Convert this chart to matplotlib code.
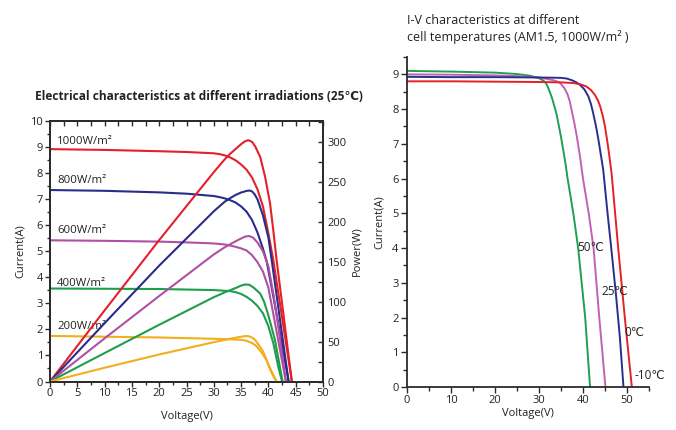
import matplotlib
matplotlib.use("Agg")
import matplotlib.pyplot as plt
from matplotlib.ticker import MultipleLocator

plt.rcParams['font.family'] = ['Open Sans', 'DejaVu Sans']

# ---------------- Left panel data (irradiation) ----------------
irr_labels = ["1000W/m²", "800W/m²", "600W/m²", "400W/m²", "200W/m²"]
irr_colors = ["#e3202b", "#2a2c8c", "#b04fa3", "#1e9e4c", "#f2ae1c"]

iv1000_v = [0, 10, 20, 25, 30, 31, 32, 33, 34, 35, 36, 37, 38, 39, 40, 40.9, 42, 43, 44.3]
iv1000_i = [8.92, 8.89, 8.84, 8.81, 8.76, 8.73, 8.68, 8.6, 8.49, 8.33, 8.13, 7.83, 7.38, 6.72, 5.68, 4.66, 3.15, 1.78, 0]
p1000_v = [0, 10, 20, 30, 32, 33, 34, 35, 35.7, 36.3, 37, 37.6, 38.5, 39.4, 40.3, 40.9, 41.5, 42.5, 43.5, 44.3]
p1000_p = [0, 89, 177, 262, 278, 285, 291, 297, 300.5, 302, 300, 294, 281, 256, 223, 189, 152, 98, 43, 0]

iv800_v = [0, 10, 20, 25, 30, 31, 32, 33, 34, 35, 36, 37, 38, 39, 39.7, 41, 42, 43, 43.7]
iv800_i = [7.35, 7.32, 7.26, 7.21, 7.12, 7.08, 7.03, 6.96, 6.87, 6.72, 6.52, 6.2, 5.72, 5.1, 4.6, 3.15, 2.0, 0.82, 0]
p800_v = [0, 10, 20, 30, 32, 33, 34, 35, 36, 36.5, 37, 37.5, 38, 39, 40, 40.6, 41.5, 42.5, 43.7]
p800_p = [0, 73, 145, 213, 225, 229.5, 233.5, 236.5, 238.5, 239, 238, 234, 228, 208, 180, 152, 108, 59, 0]

iv600_v = [0, 10, 20, 25, 30, 32, 33, 34, 35, 36, 37, 38, 39, 40, 41, 42, 43.2]
iv600_i = [5.42, 5.40, 5.37, 5.34, 5.3, 5.26, 5.22, 5.17, 5.11, 5.03, 4.85, 4.58, 4.22, 3.6, 2.48, 1.35, 0]
p600_v = [0, 10, 20, 30, 32, 34, 35, 35.8, 36.5, 37.2, 38, 39, 40, 41, 42, 43.2]
p600_p = [0, 54, 107, 159, 168, 175.5, 179, 181.5, 182, 180, 174, 163, 144, 106, 60, 0]

iv400_v = [0, 10, 20, 30, 33, 34, 35, 36, 37, 38, 39, 40, 40.9, 41.8, 42.5]
iv400_i = [3.57, 3.56, 3.55, 3.51, 3.47, 3.43, 3.36, 3.25, 3.1, 2.9, 2.62, 2.12, 1.47, 0.57, 0]
p400_v = [0, 10, 20, 30, 32, 34, 35, 35.8, 36.5, 37.3, 38.5, 39.2, 39.9, 40.5, 41.2, 42.1, 42.6]
p400_p = [0, 35.6, 71, 105.5, 111.5, 117, 120, 121.5, 121, 117.5, 110, 100, 85, 70, 52, 18.5, 0]

iv200_v = [0, 10, 20, 30, 33, 35, 36, 37, 37.8, 38.8, 39.7, 40.5, 41.5]
iv200_i = [1.75, 1.72, 1.69, 1.64, 1.62, 1.6, 1.56, 1.48, 1.36, 1.1, 0.8, 0.42, 0]
p200_v = [0, 10, 20, 30, 33, 34, 35, 35.7, 36.3, 37, 37.5, 38, 38.9, 39.5, 40.1, 40.8, 41.5]
p200_p = [0, 17.2, 33.8, 49.2, 53.5, 54.8, 56, 56.8, 56.8, 55, 52.5, 48, 39, 30, 18.5, 8, 0]

iv_v = [iv1000_v, iv800_v, iv600_v, iv400_v, iv200_v]
iv_i = [iv1000_i, iv800_i, iv600_i, iv400_i, iv200_i]
pw_v = [p1000_v, p800_v, p600_v, p400_v, p200_v]
pw_p = [p1000_p, p800_p, p600_p, p400_p, p200_p]
irr_label_xy = [(1.3, 9.23), (1.3, 7.73), (1.3, 5.8), (1.3, 3.78), (1.3, 2.1)]

# ---------------- Right panel data (temperature) ----------------
temp_labels = ["50℃", "25℃", "0℃", "-10℃"]
temp_colors = ["#1ea052", "#c062b4", "#2a2f8c", "#e52028"]
t50_v = [0, 10, 20, 25, 28, 30, 31, 31.6, 32, 32.5, 33, 33.5, 34, 35, 36, 36.5, 37.8, 38.9, 40.5, 41.6]
t50_i = [9.10, 9.08, 9.05, 9.01, 8.96, 8.89, 8.82, 8.74, 8.64, 8.48, 8.3, 8.08, 7.85, 7.2, 6.45, 6.0, 5.0, 4.0, 2.0, 0]
t25_v = [0, 10, 20, 25, 30, 33, 34, 34.8, 35.8, 36.5, 37, 37.4, 38, 38.6, 39.3, 40.0, 41.3, 42.4, 43.7, 45.1]
t25_i = [9.00, 8.99, 8.97, 8.95, 8.91, 8.84, 8.8, 8.75, 8.6, 8.42, 8.22, 7.98, 7.62, 7.21, 6.65, 6.0, 5.0, 4.0, 2.0, 0]
t0_v = [0, 10, 20, 30, 35, 36.3, 37.5, 38.5, 39.3, 40.3, 41.2, 41.8, 42.3, 43, 43.5, 44.1, 44.6, 45.5, 46.5, 47.5, 48.4, 49.2]
t0_i = [8.93, 8.92, 8.92, 8.91, 8.9, 8.88, 8.83, 8.77, 8.7, 8.57, 8.37, 8.15, 7.89, 7.48, 7.12, 6.65, 6.25, 5.1, 3.9, 2.65, 1.4, 0]
tm10_v = [0, 10, 20, 30, 35, 37.8, 39.5, 40.8, 41.8, 42.7, 43.4, 43.9, 44.5, 45.0, 45.4, 45.8, 46.5, 48.0, 49.5, 51.1]
tm10_i = [8.80, 8.80, 8.79, 8.78, 8.77, 8.75, 8.71, 8.65, 8.55, 8.41, 8.25, 8.08, 7.8, 7.5, 7.17, 6.83, 6.15, 4.0, 2.0, 0]
temp_v = [t50_v, t25_v, t0_v, tm10_v]
temp_i = [t50_i, t25_i, t0_i, tm10_i]
temp_label_xy = [(38.6, 4.03), (44.1, 2.74), (49.3, 1.56), (51.8, 0.32)]

spine_c = "#2b2b2b"
txt_c = "#222222"
fs = 8

fig = plt.figure(figsize=(6.76, 4.30), dpi=100)

# ---------------- Left panel ----------------
ax = fig.add_axes([50/676, 1-381.5/430, 273/676, 260.5/430])
for v, i, c in zip(iv_v, iv_i, irr_colors):
    ax.plot(v, i, color=c, lw=1.5, solid_joinstyle='round')
ax.set_xlim(0, 50)
ax.set_ylim(0, 10)
ax.xaxis.set_major_locator(MultipleLocator(5))
ax.xaxis.set_minor_locator(MultipleLocator(2.5))
ax.yaxis.set_major_locator(MultipleLocator(1))
ax.yaxis.set_minor_locator(MultipleLocator(0.5))
ax.tick_params(axis='both', which='both', labelsize=fs, colors=spine_c, labelcolor=txt_c, width=1.0)
ax.tick_params(axis='both', which='major', length=3.5, direction='out', pad=1.5)
ax.tick_params(axis='both', which='minor', length=2.5, direction='out')
ax.set_xlabel("Voltage(V)", fontsize=fs, color=txt_c, labelpad=8)
ax.set_ylabel("Current(A)", fontsize=fs, color=txt_c, labelpad=3)
for s in ax.spines.values():
    s.set_color(spine_c)
    s.set_linewidth(1.3)
for (x, y), lab in zip(irr_label_xy, irr_labels):
    ax.text(x, y, lab, fontsize=8.2, color=txt_c, va='center', ha='left')

# top ticks (inward)
axt = ax.secondary_xaxis('top')
axt.xaxis.set_major_locator(MultipleLocator(5))
axt.xaxis.set_minor_locator(MultipleLocator(2.5))
axt.tick_params(which='both', direction='in', labeltop=False, colors=spine_c, width=1.0)
axt.tick_params(which='major', length=3.5)
axt.tick_params(which='minor', length=3.5)
axt.spines['top'].set_visible(False)

ax2 = ax.twinx()
for v, p, c in zip(pw_v, pw_p, irr_colors):
    ax2.plot(v, p, color=c, lw=1.5, solid_joinstyle='round')
ax2.set_ylim(0, 326)
ax2.yaxis.set_major_locator(MultipleLocator(50))
ax2.yaxis.set_minor_locator(MultipleLocator(25))
ax2.tick_params(axis='y', which='both', labelsize=fs, colors=spine_c, labelcolor=txt_c, direction='in', width=1.0, pad=3)
ax2.tick_params(axis='y', which='major', length=3.5)
ax2.tick_params(axis='y', which='minor', length=3.5)
ax2.set_ylabel("Power(W)", fontsize=fs, color=txt_c, labelpad=4)
for s in ax2.spines.values():
    s.set_color(spine_c)
    s.set_linewidth(1.3)

fig.text(35/676, 1-97/430, "Electrical characteristics at different irradiations (25℃)",
         fontsize=8.55, fontweight='bold', color=txt_c, va='center', ha='left',
         family=['Open Sans', 'DejaVu Sans'])

# ---------------- Right panel ----------------
bx = fig.add_axes([407/676, 1-387/430, 242/676, 330/430])
for v, i, c in zip(temp_v, temp_i, temp_colors):
    bx.plot(v, i, color=c, lw=1.4, solid_joinstyle='round')
bx.set_xlim(0, 55)
bx.set_ylim(0, 9.5)
bx.xaxis.set_major_locator(MultipleLocator(10))
bx.xaxis.set_minor_locator(MultipleLocator(5))
bx.yaxis.set_major_locator(MultipleLocator(1))
bx.yaxis.set_minor_locator(MultipleLocator(0.5))
bx.tick_params(axis='both', which='both', labelsize=fs, colors=spine_c, labelcolor=txt_c, direction='out', width=1.0)
bx.tick_params(axis='both', which='major', length=4, pad=2)
bx.tick_params(axis='both', which='minor', length=3)
bx.spines['top'].set_visible(False)
bx.spines['right'].set_visible(False)
for s in ('left', 'bottom'):
    bx.spines[s].set_color(spine_c)
    bx.spines[s].set_linewidth(1.3)
bx.set_xlabel("Voltage(V)", fontsize=fs, color=txt_c, labelpad=1)
bx.set_ylabel("Current(A)", fontsize=fs, color=txt_c, labelpad=5)
for (x, y), lab in zip(temp_label_xy, temp_labels):
    bx.text(x, y, lab, fontsize=8.5, color=txt_c, va='center', ha='left')

fig.text(407/676, 1-20/430, "I-V characteristics at different", fontsize=9.0, color=txt_c, va='center', ha='left')
fig.text(407/676, 1-37/430, "cell temperatures (AM1.5, 1000W/m² )", fontsize=9.0, color=txt_c, va='center', ha='left')

fig.savefig("out.png", dpi=100)
